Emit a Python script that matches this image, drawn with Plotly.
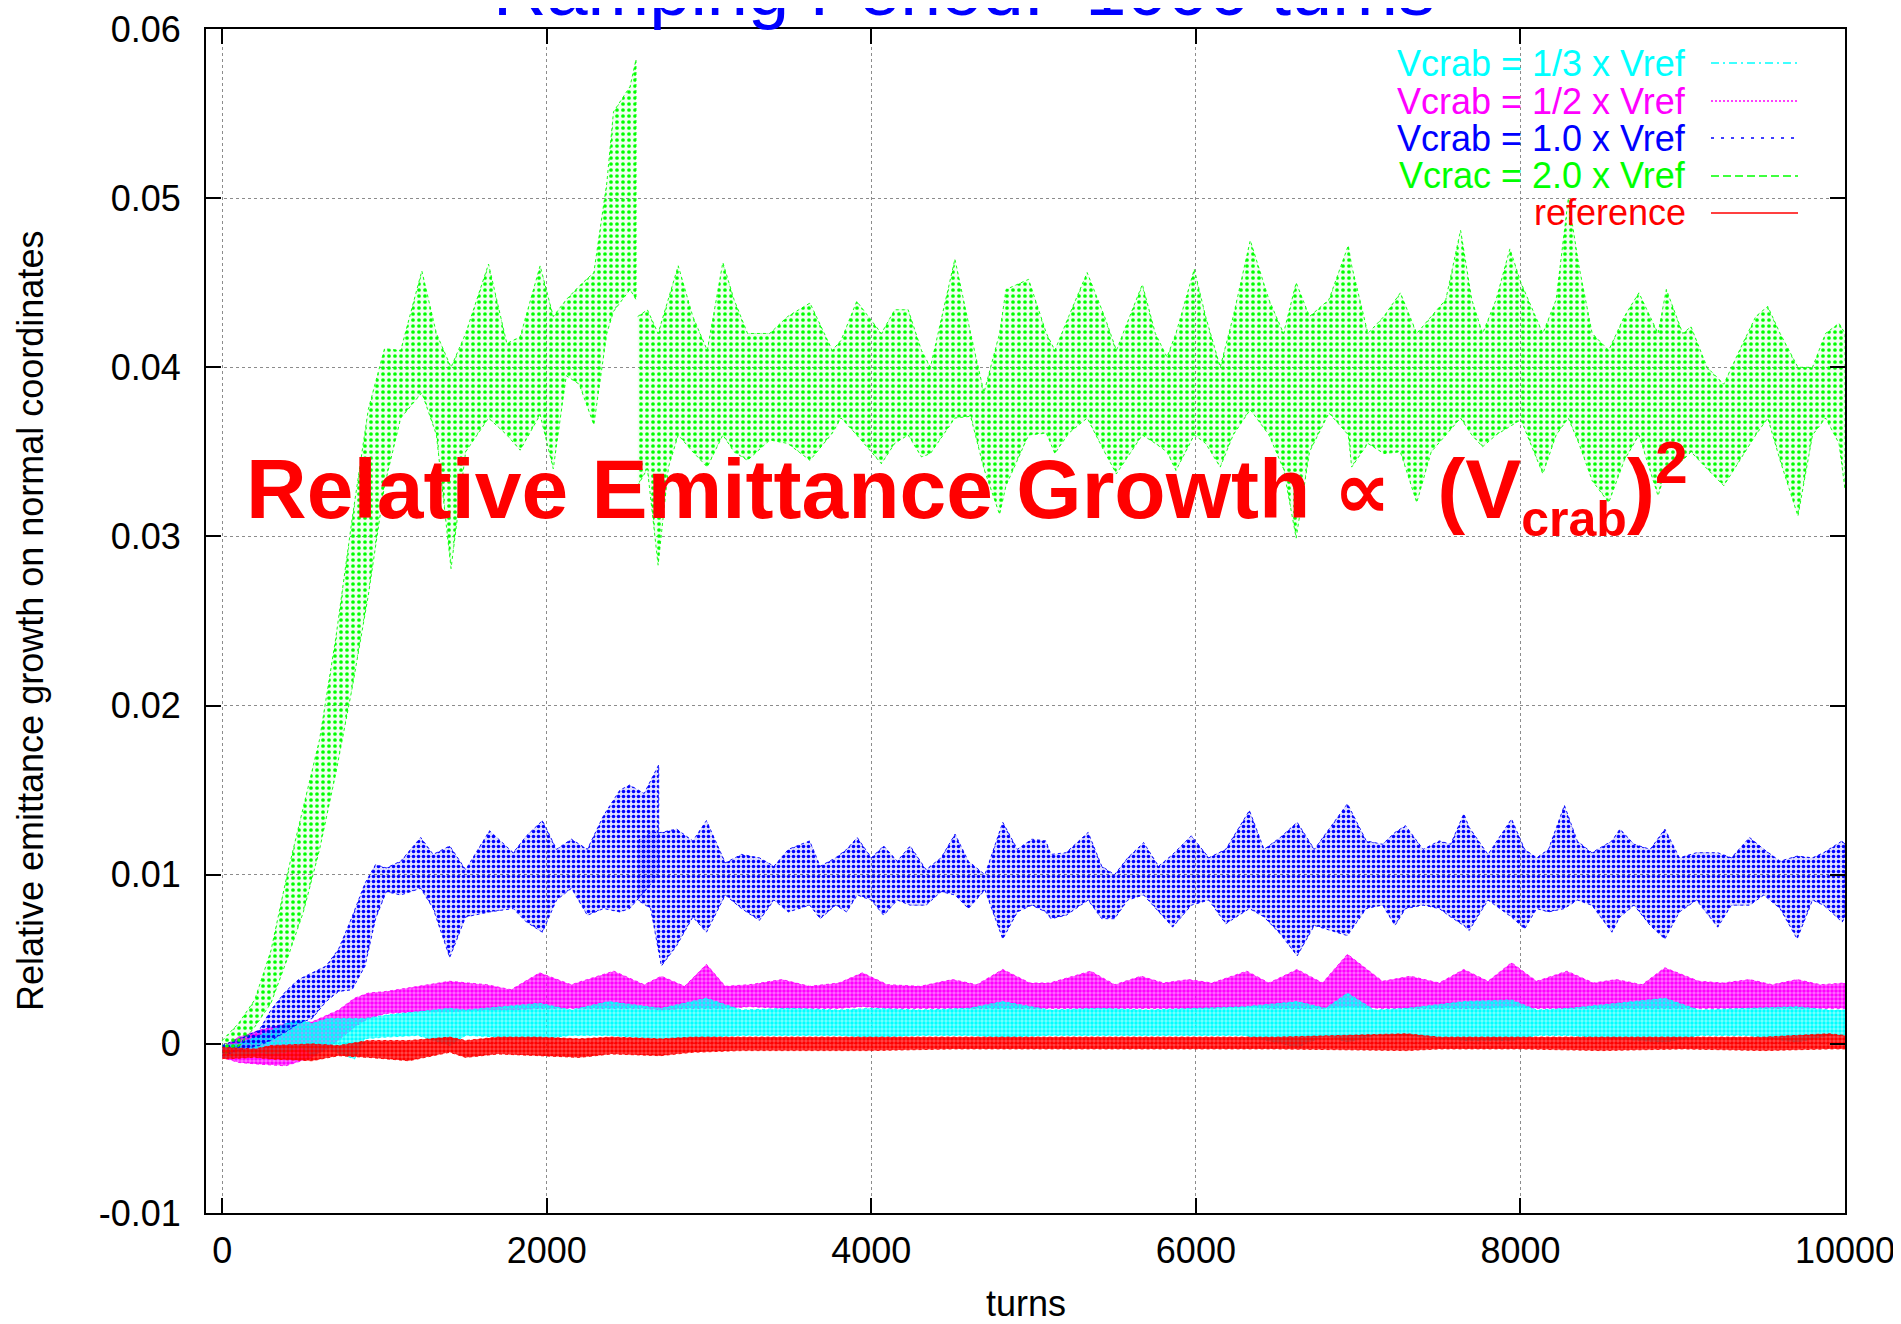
import plotly.graph_objects as go

# ---------------- data ----------------
X_TICKS = [0, 2000, 4000, 6000, 8000, 10000]
X_TICK_LABELS = ["0", "2000", "4000", "6000", "8000", "10000"]
Y_TICKS = [-0.01, 0, 0.01, 0.02, 0.03, 0.04, 0.05, 0.06]
Y_TICK_LABELS = ["-0.01", "0", "0.01", "0.02", "0.03", "0.04", "0.05", "0.06"]

# Vcrac = 2.0 x Vref  (two pieces: ramp/first run, then the continuing run)
GREEN_A_TURNS = [0, 100, 200, 300, 400, 500, 600, 700, 800, 900, 1000, 1100, 1230, 1320, 1410,
                 1500, 1641, 1754, 1836, 1959, 2040, 2120, 2200, 2290, 2370, 2411, 2472, 2513, 2550]
GREEN_A_HI = [0.0002, 0.0012, 0.0026, 0.0055, 0.0100, 0.0140, 0.0180, 0.0240, 0.0310, 0.0375, 0.0411,
              0.0410, 0.0457, 0.0420, 0.0400, 0.0420, 0.0461, 0.0414, 0.0418, 0.0460, 0.0430, 0.0440,
              0.0448, 0.0456, 0.0509, 0.0551, 0.0560, 0.0566, 0.0582]
GREEN_A_LO = [-0.0007, -0.0002, 0.0010, 0.0024, 0.0050, 0.0078, 0.0115, 0.0160, 0.0210, 0.0265, 0.0330,
              0.0370, 0.0385, 0.0360, 0.0281, 0.0350, 0.0370, 0.0360, 0.0351, 0.0372, 0.0340, 0.0395,
              0.0390, 0.0366, 0.0420, 0.0433, 0.0441, 0.0446, 0.0440]

GREEN_B_TURNS = [2560, 2620, 2686, 2750, 2810, 2900, 2989, 3085, 3154, 3237, 3374, 3484, 3622, 3759,
                 3814, 3910, 4062, 4144, 4227, 4309, 4364, 4515, 4612, 4694, 4790, 4830, 4969, 5079,
                 5131, 5216, 5330, 5437, 5510, 5670, 5750, 5822, 5877, 5990, 6060, 6150, 6230, 6335,
                 6450, 6540, 6618, 6700, 6820, 6939, 6960, 7060, 7158, 7260, 7361, 7450, 7540, 7631,
                 7700, 7767, 7850, 7935, 8003, 8138, 8220, 8295, 8360, 8442, 8544, 8640, 8730, 8848,
                 8899, 9000, 9051, 9150, 9253, 9350, 9450, 9524, 9600, 9710, 9800, 9880, 9963, 10000]
GREEN_B_HI = [0.0430, 0.0434, 0.0420, 0.0440, 0.0460, 0.0430, 0.0410, 0.0462, 0.0440, 0.0420, 0.0420,
              0.0430, 0.0438, 0.0410, 0.0416, 0.0439, 0.0420, 0.0434, 0.0434, 0.0410, 0.0400, 0.0464,
              0.0420, 0.0385, 0.0420, 0.0446, 0.0452, 0.0420, 0.0410, 0.0430, 0.0456, 0.0430, 0.0410,
              0.0449, 0.0420, 0.0406, 0.0420, 0.0458, 0.0430, 0.0400, 0.0430, 0.0475, 0.0440, 0.0420,
              0.0450, 0.0430, 0.0440, 0.0472, 0.0460, 0.0420, 0.0430, 0.0444, 0.0420, 0.0430, 0.0440,
              0.0481, 0.0440, 0.0420, 0.0440, 0.0470, 0.0450, 0.0420, 0.0440, 0.0500, 0.0460, 0.0420,
              0.0410, 0.0430, 0.0444, 0.0420, 0.0446, 0.0420, 0.0424, 0.0400, 0.0390, 0.0410, 0.0430,
              0.0436, 0.0420, 0.0400, 0.0400, 0.0420, 0.0426, 0.0420]
GREEN_B_LO = [0.0330, 0.0340, 0.0283, 0.0341, 0.0360, 0.0350, 0.0341, 0.0360, 0.0350, 0.0345, 0.0357,
              0.0355, 0.0345, 0.0361, 0.0370, 0.0360, 0.0343, 0.0355, 0.0360, 0.0347, 0.0349, 0.0370,
              0.0371, 0.0340, 0.0313, 0.0330, 0.0360, 0.0361, 0.0349, 0.0361, 0.0370, 0.0350, 0.0337,
              0.0360, 0.0355, 0.0350, 0.0339, 0.0360, 0.0355, 0.0341, 0.0360, 0.0375, 0.0360, 0.0340,
              0.0299, 0.0350, 0.0373, 0.0360, 0.0341, 0.0355, 0.0349, 0.0350, 0.0320, 0.0350, 0.0360,
              0.0370, 0.0360, 0.0353, 0.0360, 0.0365, 0.0369, 0.0337, 0.0360, 0.0370, 0.0355, 0.0333,
              0.0320, 0.0345, 0.0360, 0.0324, 0.0340, 0.0345, 0.0350, 0.0340, 0.0330, 0.0345, 0.0360,
              0.0370, 0.0345, 0.0312, 0.0360, 0.0370, 0.0355, 0.0328]

# Vcrab = 1.0 x Vref
BLUE_A_TURNS = [0, 100, 228, 300, 391, 470, 554, 640, 717, 800, 880, 945, 1011, 1100, 1223, 1300,
                1402, 1500, 1647, 1793, 1875, 1973, 2060, 2152, 2250, 2350, 2450, 2511, 2600, 2690]
BLUE_A_HI = [-0.0001, 0.0003, 0.0008, 0.0020, 0.0031, 0.0038, 0.0042, 0.0046, 0.0056, 0.0075, 0.0095,
             0.0106, 0.0104, 0.0108, 0.0122, 0.0112, 0.0117, 0.0103, 0.0126, 0.0113, 0.0123, 0.0132,
             0.0115, 0.0121, 0.0115, 0.0135, 0.0150, 0.0153, 0.0148, 0.0165]
BLUE_A_LO = [-0.0007, -0.0004, -0.0001, 0.0002, 0.0007, 0.0012, 0.0015, 0.0025, 0.0031, 0.0032, 0.0046,
             0.0074, 0.0090, 0.0088, 0.0092, 0.0080, 0.0051, 0.0075, 0.0078, 0.0080, 0.0072, 0.0066,
             0.0085, 0.0092, 0.0076, 0.0080, 0.0078, 0.0080, 0.0090, 0.0100]

BLUE_B_TURNS = [2560, 2640, 2706, 2800, 2900, 2984, 3100, 3200, 3310, 3400, 3489, 3620, 3685, 3780,
                3848, 3913, 4000, 4076, 4160, 4239, 4337, 4430, 4516, 4598, 4700, 4810, 4900, 4989,
                5075, 5107, 5200, 5336, 5420, 5499, 5580, 5678, 5770, 5857, 5972, 6080, 6184, 6330,
                6420, 6520, 6624, 6730, 6934, 7050, 7150, 7227, 7292, 7400, 7500, 7570, 7651, 7684,
                7800, 7945, 8026, 8100, 8173, 8271, 8350, 8440, 8564, 8613, 8700, 8800, 8890, 8980,
                9085, 9216, 9300, 9412, 9500, 9600, 9705, 9800, 9868, 9983, 10000]
BLUE_B_HI = [0.0120, 0.0125, 0.0125, 0.0127, 0.0120, 0.0132, 0.0107, 0.0112, 0.0110, 0.0105, 0.0115,
             0.0120, 0.0105, 0.0110, 0.0115, 0.0122, 0.0110, 0.0117, 0.0108, 0.0117, 0.0103, 0.0110,
             0.0124, 0.0108, 0.0100, 0.0131, 0.0115, 0.0121, 0.0120, 0.0112, 0.0113, 0.0125, 0.0105,
             0.0100, 0.0110, 0.0119, 0.0105, 0.0112, 0.0123, 0.0110, 0.0115, 0.0138, 0.0115, 0.0122,
             0.0131, 0.0115, 0.0142, 0.0120, 0.0118, 0.0125, 0.0129, 0.0115, 0.0120, 0.0118, 0.0136,
             0.0128, 0.0112, 0.0133, 0.0115, 0.0110, 0.0115, 0.0141, 0.0120, 0.0113, 0.0120, 0.0127,
             0.0118, 0.0115, 0.0127, 0.0110, 0.0113, 0.0113, 0.0110, 0.0122, 0.0115, 0.0108, 0.0111,
             0.0110, 0.0113, 0.0120, 0.0118]
BLUE_B_LO = [0.0085, 0.0080, 0.0046, 0.0058, 0.0075, 0.0066, 0.0088, 0.0080, 0.0073, 0.0085, 0.0078,
             0.0082, 0.0074, 0.0082, 0.0078, 0.0088, 0.0085, 0.0076, 0.0085, 0.0082, 0.0082, 0.0090,
             0.0088, 0.0080, 0.0091, 0.0062, 0.0078, 0.0082, 0.0078, 0.0074, 0.0076, 0.0085, 0.0074,
             0.0074, 0.0085, 0.0088, 0.0078, 0.0069, 0.0082, 0.0085, 0.0071, 0.0080, 0.0075, 0.0065,
             0.0052, 0.0070, 0.0064, 0.0080, 0.0082, 0.0070, 0.0080, 0.0082, 0.0080, 0.0075, 0.0070,
             0.0067, 0.0085, 0.0075, 0.0068, 0.0080, 0.0078, 0.0080, 0.0085, 0.0082, 0.0066, 0.0075,
             0.0082, 0.0070, 0.0062, 0.0078, 0.0085, 0.0069, 0.0082, 0.0082, 0.0088, 0.0080, 0.0062,
             0.0085, 0.0082, 0.0072, 0.0075]

# Vcrab = 1/2 x Vref
MAGENTA_TURNS = [0, 100, 228, 391, 554, 717, 815, 900, 1011, 1206, 1402, 1630, 1780, 1956, 2150, 2413,
                 2600, 2706, 2850, 2984, 3100, 3250, 3450, 3620, 3800, 3945, 4100, 4300, 4500, 4650,
                 4810, 4977, 5100, 5352, 5500, 5662, 5800, 5955, 6100, 6314, 6450, 6624, 6780, 6934,
                 7150, 7322, 7500, 7651, 7800, 7945, 8100, 8287, 8450, 8590, 8750, 8890, 9100, 9250,
                 9412, 9550, 9705, 9850, 10000]
MAGENTA_HI = [-0.0002, 0.0004, 0.0008, 0.0012, 0.0013, 0.0020, 0.0027, 0.0030, 0.0031, 0.0034, 0.0037,
              0.0035, 0.0032, 0.0042, 0.0035, 0.0043, 0.0035, 0.0040, 0.0034, 0.0047, 0.0034, 0.0035,
              0.0038, 0.0034, 0.0036, 0.0042, 0.0035, 0.0034, 0.0038, 0.0035, 0.0044, 0.0036, 0.0036,
              0.0043, 0.0035, 0.0040, 0.0036, 0.0038, 0.0036, 0.0043, 0.0036, 0.0044, 0.0036, 0.0053,
              0.0037, 0.0040, 0.0036, 0.0044, 0.0037, 0.0048, 0.0037, 0.0043, 0.0036, 0.0038, 0.0035,
              0.0045, 0.0037, 0.0036, 0.0038, 0.0035, 0.0038, 0.0035, 0.0036]
MAGENTA_LO = [-0.0008, -0.0011, -0.0012, -0.0013, -0.0008, 0.0002, 0.0010, 0.0015, 0.0018, 0.0019,
              0.0019, 0.0020, 0.0020, 0.0021, 0.0021, 0.0021, 0.0021, 0.0020, 0.0021, 0.0021, 0.0021,
              0.0022, 0.0021, 0.0021, 0.0021, 0.0022, 0.0021, 0.0021, 0.0021, 0.0021, 0.0021, 0.0021,
              0.0021, 0.0021, 0.0021, 0.0021, 0.0021, 0.0021, 0.0021, 0.0022, 0.0021, 0.0021, 0.0021,
              0.0022, 0.0021, 0.0021, 0.0021, 0.0021, 0.0021, 0.0022, 0.0021, 0.0021, 0.0021, 0.0021,
              0.0021, 0.0021, 0.0021, 0.0021, 0.0021, 0.0021, 0.0021, 0.0021, 0.0021]

# Vcrab = 1/3 x Vref
CYAN_TURNS = [0, 100, 228, 300, 391, 490, 554, 650, 815, 880, 1011, 1206, 1402, 1500, 1956, 2150,
              2380, 2706, 2984, 3200, 3500, 3800, 4000, 4300, 4600, 4810, 5100, 5400, 5700, 6000,
              6300, 6624, 6800, 6934, 7100, 7300, 7651, 7945, 8100, 8300, 8890, 9100, 9400, 9705,
              9900, 10000]
CYAN_HI = [-0.0001, 0.0000, 0.0005, 0.0008, 0.0012, 0.0014, 0.0012, 0.0015, 0.0015, 0.0015, 0.0017,
           0.0019, 0.0021, 0.0020, 0.0024, 0.0020, 0.0025, 0.0021, 0.0027, 0.0020, 0.0021, 0.0020,
           0.0021, 0.0020, 0.0021, 0.0025, 0.0020, 0.0021, 0.0020, 0.0021, 0.0022, 0.0025, 0.0021,
           0.0030, 0.0020, 0.0021, 0.0025, 0.0026, 0.0020, 0.0021, 0.0027, 0.0020, 0.0021, 0.0022,
           0.0020, 0.0020]
CYAN_LO = [-0.0008, -0.0007, -0.0005, -0.0006, -0.0005, -0.0002, -0.0007, -0.0003, -0.0009, 0.0003,
           0.0004, 0.0005, -0.0001, 0.0005, 0.0003, 0.0005, 0.0005, 0.0003, 0.0004, 0.0005, 0.0005,
           0.0005, 0.0004, 0.0005, 0.0005, 0.0004, 0.0005, 0.0005, 0.0005, 0.0005, 0.0005, -0.0002,
           0.0005, 0.0001, 0.0005, 0.0005, 0.0002, 0.0002, 0.0005, 0.0005, 0.0001, 0.0005, 0.0005,
           0.0001, 0.0005, 0.0005]

# reference
RED_TURNS = [0, 200, 300, 554, 717, 900, 1150, 1402, 1500, 1700, 1956, 2200, 2400, 2700, 2900, 3200,
             3500, 4000, 4500, 5000, 5500, 6000, 6500, 7300, 7500, 8000, 8500, 9000, 9500, 9900, 10000]
RED_HI = [-0.0002, -0.0003, -0.0001, 0.0000, -0.0001, 0.0002, 0.0002, 0.0004, 0.0002, 0.0004, 0.0004,
          0.0003, 0.0004, 0.0003, 0.0004, 0.0004, 0.0004, 0.0004, 0.0004, 0.0004, 0.0004, 0.0004,
          0.0004, 0.0006, 0.0004, 0.0004, 0.0004, 0.0004, 0.0004, 0.0006, 0.0005]
RED_LO = [-0.0009, -0.0008, -0.0009, -0.0010, -0.0007, -0.0008, -0.0010, -0.0005, -0.0008, -0.0006,
          -0.0007, -0.0008, -0.0006, -0.0007, -0.0005, -0.0004, -0.0004, -0.0004, -0.0003, -0.0003,
          -0.0003, -0.0003, -0.0003, -0.0004, -0.0003, -0.0003, -0.0004, -0.0003, -0.0004, -0.0003,
          -0.0003]

LEGEND_LABELS = ["Vcrab = 1/3 x Vref", "Vcrab = 1/2 x Vref", "Vcrab = 1.0 x Vref",
                 "Vcrac = 2.0 x Vref", "reference"]
TITLE_TEXT = "Ramping Period:\u00a0 1000 turns"
X_TITLE = "turns"
Y_TITLE = "Relative emittance growth on normal coordinates"
NOTE_TEXT = ("Relative Emittance Growth "
             "<span style='font-family:DejaVu Sans;font-size:80px'>\u221d</span>"
             " \u00a0(V<sub><span style='font-size:50px'>crab</span></sub>)<sup>2</sup>")

# ---------------- styling / layout ----------------
PAGE_W, PAGE_H = 1901, 1324
BODY = 8                                   # default page margin around the plot div
W, H = PAGE_W - 2 * BODY, PAGE_H - 2 * BODY
L, R, T, B = 206, 1845, 29, 1213          # plot box, in page pixels
FONT = "Liberation Sans, Arial, Helvetica, sans-serif"

CYAN, MAGENTA, BLUE, GREEN, RED = "#00ffff", "#ff00ff", "#0000ff", "#00ff00", "#ff0000"


def px_x(p):
    return (p - L) / (R - L)


def px_y(p):
    return (B - p) / (B - T)


def rgba(hexc, a):
    h = hexc.lstrip("#")
    return "rgba(%d,%d,%d,%.2f)" % (int(h[0:2], 16), int(h[2:4], 16), int(h[4:6], 16), a)


def band(turns, hi, lo, color, size, solidity, bg_alpha, edge_alpha=0.9):
    return go.Scatter(
        x=list(turns) + list(turns)[::-1],
        y=list(hi) + list(lo)[::-1],
        mode="lines",
        fill="toself",
        fillcolor=rgba(color, bg_alpha),
        fillpattern=dict(shape=".", fgcolor=color, bgcolor=rgba(color, bg_alpha),
                         size=size, solidity=solidity, fillmode="replace"),
        line=dict(color=rgba(color, edge_alpha), width=1, dash="dot"),
        showlegend=False,
        hoverinfo="skip",
    )


fig = go.Figure()
fig.add_trace(band(MAGENTA_TURNS, MAGENTA_HI, MAGENTA_LO, MAGENTA, 4, 0.6, 0.55))
fig.add_trace(band(CYAN_TURNS, CYAN_HI, CYAN_LO, CYAN, 4, 0.55, 0.50))
fig.add_trace(band(BLUE_A_TURNS, BLUE_A_HI, BLUE_A_LO, BLUE, 5, 0.4, 0.12))
fig.add_trace(band(BLUE_B_TURNS, BLUE_B_HI, BLUE_B_LO, BLUE, 5, 0.4, 0.12))
fig.add_trace(band(GREEN_A_TURNS, GREEN_A_HI, GREEN_A_LO, GREEN, 6, 0.3, 0.06))
fig.add_trace(band(GREEN_B_TURNS, GREEN_B_HI, GREEN_B_LO, GREEN, 6, 0.3, 0.06))
fig.add_trace(band(RED_TURNS, RED_HI, RED_LO, RED, 4, 0.6, 0.70))

axis_common = dict(
    showline=True, linecolor="black", linewidth=2, mirror="ticks",
    ticks="inside", ticklen=15, tickwidth=2, tickcolor="black",
    showgrid=True, gridcolor="#8c8c8c", gridwidth=1, griddash="dot",
    zeroline=False, automargin=False, ticklabeloverflow="allow",
    tickfont=dict(family=FONT, size=36, color="black"),
)

fig.update_layout(
    width=W, height=H,
    margin=dict(l=L - BODY, r=W - (R - BODY), t=T - BODY, b=H - (B - BODY), autoexpand=False),
    paper_bgcolor="white", plot_bgcolor="white",
    xaxis=dict(range=[-100, 10000], tickvals=X_TICKS, ticktext=X_TICK_LABELS,
               ticklabelstandoff=5, **axis_common),
    yaxis=dict(range=[-0.01, 0.06], tickvals=Y_TICKS, ticktext=Y_TICK_LABELS,
               ticklabelstandoff=16, **axis_common),
    showlegend=False,
)

# white key background hides the grid under the legend (as gnuplot does)
fig.add_shape(type="rect", xref="paper", yref="paper",
              x0=px_x(1289), x1=1, y0=px_y(233), y1=1,
              fillcolor="white", line=dict(width=0), layer="below")

# manual gnuplot-style key: right aligned coloured text, then the line sample
legend_colors = [CYAN, MAGENTA, BLUE, GREEN, RED]
legend_dashes = ["8px,4px,2px,4px", "2px,2px", "3px,7px", "8px,4px", "solid"]
row_y = [63, 101, 138, 176, 213]
for lab, col, dsh, yy in zip(LEGEND_LABELS, legend_colors, legend_dashes, row_y):
    fig.add_annotation(x=px_x(1688), y=px_y(yy), xref="paper", yref="paper",
                       text=lab, showarrow=False, xanchor="right", yanchor="middle",
                       font=dict(family=FONT, size=36, color=col))
    fig.add_shape(type="line", xref="paper", yref="paper",
                  x0=px_x(1711), x1=px_x(1798), y0=px_y(yy), y1=px_y(yy),
                  line=dict(color=col, width=1.5, dash=dsh))

# title (partly outside the top of the page, as in the reference)
fig.add_annotation(x=px_x(964), y=px_y(33), xref="paper", yref="paper",
                   text=TITLE_TEXT, showarrow=False, xanchor="center", yanchor="bottom",
                   font=dict(family=FONT, size=74, color=BLUE))

# axis titles
fig.add_annotation(x=px_x(30), y=px_y(621), xref="paper", yref="paper",
                   text=Y_TITLE, showarrow=False, textangle=-90,
                   xanchor="center", yanchor="middle",
                   font=dict(family=FONT, size=36, color="black"))
fig.add_annotation(x=px_x(1026), y=px_y(1303), xref="paper", yref="paper",
                   text=X_TITLE, showarrow=False, xanchor="center", yanchor="middle",
                   font=dict(family=FONT, size=36, color="black"))

# big red statement
fig.add_annotation(x=px_x(244), y=px_y(489), xref="paper", yref="paper",
                   text="<b>" + NOTE_TEXT + "</b>", showarrow=False,
                   xanchor="left", yanchor="middle",
                   font=dict(family=FONT, size=84, color=RED))

fig.write_html("out.html")
